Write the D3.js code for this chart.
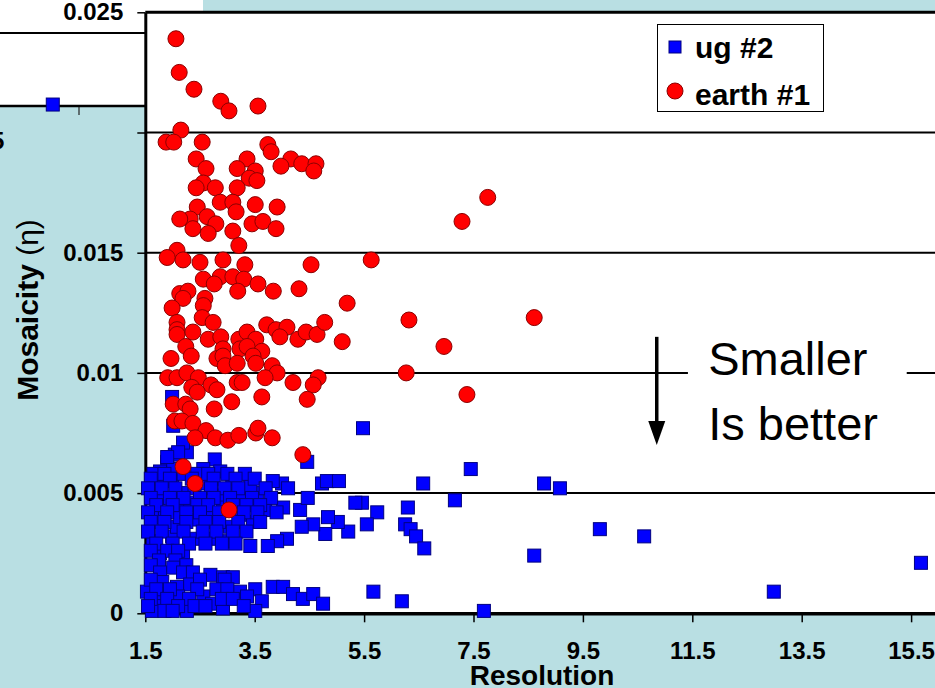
<!DOCTYPE html>
<html>
<head>
<meta charset="utf-8">
<script src="https://cdn.jsdelivr.net/npm/d3@7"></script>
<style>
  body { margin: 0; background: #b9dfe3; overflow: hidden; }
  svg { display: block; font-family: Arial, "Liberation Sans", sans-serif; }
</style>
</head>
<body>
<svg id="chart"></svg>
<script>
var xTicks = [1.5, 3.5, 5.5, 7.5, 9.5, 11.5, 13.5, 15.5];
var yTicks = [0, 0.005, 0.01, 0.015, 0.02, 0.025];
var yTickLabels = ["0", "0.005", "0.01", "0.015", "", "0.025"];
var seriesNames = ["ug #2", "earth #1"];

// [resolution, mosaicity]
var ugPoints = [
  [5.48,0.0077],[4.46,0.0063],[7.45,0.0060],[8.79,0.0054],[9.08,0.0052],[6.58,0.0054],[7.16,0.0047],
  [6.30,0.0044],[6.25,0.0037],[6.35,0.0035],[6.45,0.0032],[6.60,0.0027],[9.81,0.0035],[10.62,0.0032],
  [8.61,0.0024],[15.68,0.0021],[12.99,0.0009],[6.19,0.0005],[7.69,0.0001],[5.67,0.0009],[5.74,0.0042],
  [5.46,0.0046],[5.34,0.0046],[5.55,0.0037],[5.21,0.0034],[5.02,0.0038],[4.84,0.0040],[4.79,0.0033],
  [4.57,0.0037],[4.36,0.0036],[4.33,0.0043],[4.02,0.0044],[4.09,0.0031],[3.91,0.0030],[3.74,0.0028],
  [4.00,0.0054],[4.11,0.0052],[3.83,0.0055],[4.47,0.0048],[4.73,0.0054],[4.82,0.0055],[5.04,0.0055],
  [3.42,0.0028],[3.47,0.0038],[3.69,0.0043],[3.54,0.0050],[3.42,0.0053],[3.09,0.0054],[2.83,0.0049],
  [2.72,0.0040],[3.05,0.0036],[3.00,0.0030],[2.74,0.0031],[2.41,0.0031],[2.19,0.0025],[1.99,0.0032],
  [1.77,0.0025],[1.64,0.0030],[1.62,0.0040],[1.86,0.0042],[2.08,0.0044],[2.32,0.0046],[2.37,0.0039],
  [2.08,0.0036],[1.73,0.0048],[1.73,0.0053],[1.99,0.0055],[2.17,0.0050],[2.55,0.0054],[2.13,0.0040],
  [2.92,0.0044],[3.27,0.0047],[3.23,0.0041],
  [1.90,0.0063],[2.04,0.0066],[2.26,0.0067],[2.77,0.0064],[1.77,0.0059],[2.01,0.0060],[2.56,0.0060],
  [2.87,0.0059],[3.32,0.0058],[1.99,0.0090],[2.01,0.0078],[2.19,0.0071],[2.10,0.0067],[1.90,0.0065],
  [1.65,0.0058],[1.85,0.0058],[2.20,0.0058],[2.45,0.0058],[2.65,0.0058],[3.00,0.0058],
  [1.60,0.0056],[1.95,0.0056],[2.35,0.0056],[2.75,0.0056],[3.15,0.0056],[3.50,0.0056],
  [1.55,0.0052],[1.80,0.0052],[2.05,0.0052],[2.40,0.0052],[2.70,0.0052],[2.95,0.0052],[3.20,0.0052],[3.70,0.0052],
  [1.60,0.0048],[1.95,0.0048],[2.20,0.0048],[2.50,0.0048],[2.75,0.0048],[3.05,0.0048],[3.45,0.0048],[3.80,0.0048],
  [1.70,0.0045],[2.00,0.0045],[2.45,0.0045],[2.65,0.0045],[3.10,0.0045],[3.35,0.0045],[3.60,0.0045],
  [1.55,0.0042],[1.90,0.0042],[2.25,0.0042],[2.50,0.0042],[2.85,0.0042],[3.30,0.0042],[3.55,0.0042],[3.90,0.0042],
  [1.60,0.0038],[1.85,0.0038],[2.25,0.0038],[2.60,0.0038],[2.85,0.0038],[3.20,0.0038],[3.60,0.0038],
  [1.55,0.0034],[1.80,0.0034],[2.20,0.0034],[2.55,0.0034],[2.80,0.0034],[3.10,0.0034],[3.35,0.0034],
  [1.70,0.0029],[2.00,0.0029],[2.30,0.0029],[2.60,0.0029],[2.90,0.0029],[3.15,0.0029],
  [1.60,0.0026],[1.90,0.0026],[2.10,0.0026],[1.75,0.0022],[2.05,0.0022],[1.60,0.0020],[2.25,0.0020],
  [1.77,0.0017],[2.01,0.0019],[2.19,0.0017],[2.37,0.0017],[2.69,0.0016],[2.92,0.0015],[3.10,0.0015],
  [1.81,0.0013],[1.53,0.0009],[2.08,0.0011],[2.32,0.0012],[2.56,0.0007],[2.10,0.0007],[1.81,0.0008],
  [1.77,0.0003],[1.95,0.0002],[1.62,0.0001],[2.26,0.0001],[2.72,0.0004],[2.92,0.0002],[3.51,0.0010],
  [3.23,0.0009],[3.36,0.0007],[3.63,0.0005],[3.51,0.0001],[3.83,0.0011],[4.02,0.0011],[4.20,0.0008],
  [4.38,0.0006],[4.57,0.0008],[4.75,0.0004],
  [1.60,0.0014],[2.50,0.0014],[2.95,0.0014],[1.70,0.0010],[1.95,0.0010],[2.45,0.0010],[2.80,0.0010],[3.00,0.0010],
  [1.60,0.0006],[1.90,0.0006],[2.30,0.0006],[2.90,0.0006],[3.10,0.0006],
  [1.55,0.0003],[2.10,0.0003],[2.40,0.0003],[2.60,0.0003],[3.30,0.0003],[1.85,0.0001],[2.00,0.0001]
];

var earthPoints = [
  [2.06,0.0239],[2.12,0.0225],[2.39,0.0218],[2.88,0.0213],[3.03,0.0209],[3.56,0.0211],
  [2.15,0.0201],[1.88,0.0196],[2.02,0.0196],[2.54,0.0196],[3.74,0.0195],[3.80,0.0192],
  [2.43,0.0189],[3.36,0.0189],[4.16,0.0189],[4.36,0.0187],[4.62,0.0187],[4.58,0.0184],
  [3.98,0.0186],[2.61,0.0185],[3.18,0.0185],[3.51,0.0184],[3.40,0.0181],[3.54,0.0180],
  [2.56,0.0179],[2.43,0.0177],[2.78,0.0177],[3.18,0.0177],[2.87,0.0171],[3.10,0.0171],
  [3.16,0.0167],[3.51,0.0170],[3.91,0.0169],[2.45,0.0169],[2.32,0.0164],[2.13,0.0164],
  [2.63,0.0165],[2.79,0.0162],[2.37,0.0160],[2.65,0.0158],[3.10,0.0159],[3.45,0.0162],
  [3.65,0.0163],[3.89,0.0160],[3.21,0.0153],[2.08,0.0151],[1.90,0.0148],[2.19,0.0147],
  [2.50,0.0146],[2.92,0.0147],[3.32,0.0145],[4.53,0.0145],[5.63,0.0147],[2.87,0.0140],
  [2.56,0.0139],[2.76,0.0137],[3.10,0.0140],[3.30,0.0139],[3.56,0.0137],[3.19,0.0134],
  [3.84,0.0134],[4.31,0.0135],[2.13,0.0133],[2.28,0.0134],[2.19,0.0131],[2.59,0.0131],
  [2.56,0.0128],[1.99,0.0127],[2.54,0.0123],[5.19,0.0129],[2.08,0.0121],[2.74,0.0121],
  [2.08,0.0118],[2.08,0.0116],[2.37,0.0117],[2.65,0.0114],[2.88,0.0115],[3.21,0.0114],
  [3.36,0.0117],[3.52,0.0114],[3.72,0.0120],[3.89,0.0118],[4.09,0.0119],[3.96,0.0115],
  [4.29,0.0114],[4.44,0.0117],[4.64,0.0116],[4.78,0.0121],[5.10,0.0113],[2.24,0.0111],
  [2.34,0.0107],[1.97,0.0106],[2.92,0.0110],[3.23,0.0110],[3.36,0.0111],[3.63,0.0109],
  [2.81,0.0106],[2.92,0.0107],[2.96,0.0103],[3.18,0.0104],[3.47,0.0107],[3.52,0.0104],
  [3.82,0.0103],[3.91,0.0100],[1.91,0.0098],[2.08,0.0098],[2.26,0.0100],[2.47,0.0098],
  [3.69,0.0098],[4.20,0.0096],[4.66,0.0098],[4.57,0.0095],[3.18,0.0096],[3.27,0.0096],
  [2.70,0.0095],[2.81,0.0093],[2.35,0.0094],[2.45,0.0092],[3.63,0.0090],[3.08,0.0088],
  [4.46,0.0089],[2.01,0.0087],[2.24,0.0087],[2.32,0.0085],[2.76,0.0085],[2.04,0.0080],
  [2.17,0.0080],[2.37,0.0079],[2.61,0.0076],[2.41,0.0073],[2.78,0.0073],[3.01,0.0072],
  [3.21,0.0074],[3.52,0.0075],[3.56,0.0077],[3.82,0.0073],[4.38,0.0066],[2.19,0.0061],
  [2.41,0.0054],[3.03,0.0043],[6.32,0.0122],[6.96,0.0111],[6.27,0.0100],[7.38,0.0091],
  [7.29,0.0163],[7.76,0.0173],[8.61,0.0123]
];

// annotation: arrow res, from/to mosaicity; text lines
var arrowRes = 10.85, arrowFrom = 0.0115, arrowTo = 0.0070;
var noteLines = ["Smaller", "Is better"];
var noteRes = 11.79, noteMos = [0.0099, 0.0072];

// bit of an overlapped copy in the top-left corner
var insetPoints = [[2.93, 0.0201]];

var width = 935, height = 688;
var svg = d3.select("#chart").attr("width", width).attr("height", height);

var x = d3.scaleLinear().domain([1.5, 17.5]).range([145.3, 1020.5]);
var y = d3.scaleLinear().domain([0, 0.025]).range([613.3, 12.3]);

svg.append("rect").attr("width", width).attr("height", height).attr("fill", "#b9dfe3");

// plot area
svg.append("rect")
  .attr("x", x(1.5)).attr("y", y(0.025))
  .attr("width", width - x(1.5) + 10).attr("height", y(0) - y(0.025))
  .attr("fill", "#fff");

// overlapped fragment top-left
var insetX = d3.scaleLinear().domain([1.5, 3.5]).range([-13, 79]);
var insetY = d3.scaleLinear().domain([0.02, 0.025]).range([106, 33]);
svg.append("rect").attr("x", 0).attr("y", 0).attr("width", 203).attr("height", 12).attr("fill", "#fff");
svg.append("rect").attr("x", 0).attr("y", 0).attr("width", 145).attr("height", 107).attr("fill", "#fff");
svg.append("line").attr("x1", 0).attr("x2", 145).attr("y1", insetY(0.025)).attr("y2", insetY(0.025))
  .attr("stroke", "#000").attr("stroke-width", 2);
svg.append("line").attr("x1", 0).attr("x2", 145).attr("y1", insetY(0.02)).attr("y2", insetY(0.02))
  .attr("stroke", "#000").attr("stroke-width", 2.5);
svg.append("line").attr("x1", insetX(3.5)).attr("x2", insetX(3.5)).attr("y1", 107).attr("y2", 115)
  .attr("stroke", "#222").attr("stroke-width", 1.2);
svg.append("text").attr("x", -9).attr("y", 149).text("5")
  .attr("font-size", 24).attr("font-weight", "bold");

// gridlines
svg.append("g").selectAll("line")
  .data(yTicks.filter(function (d) { return d > 0 && d < 0.025; }))
  .enter().append("line")
  .attr("x1", x(1.5)).attr("x2", width)
  .attr("y1", function (d) { return y(d); })
  .attr("y2", function (d) { return y(d); })
  .attr("stroke", "#000").attr("stroke-width", 2);

// top border
svg.append("line").attr("x1", x(1.5)).attr("x2", width)
  .attr("y1", y(0.025)).attr("y2", y(0.025))
  .attr("stroke", "#000").attr("stroke-width", 3);

// y axis
var yAxis = svg.append("g")
  .attr("transform", "translate(" + x(1.5) + ",0)")
  .call(d3.axisLeft(y).tickValues(yTicks).tickSize(8).tickSizeOuter(0).tickPadding(14)
    .tickFormat(function (d, i) { return yTickLabels[i]; }));
yAxis.select(".domain").attr("stroke-width", 3);
yAxis.selectAll(".tick line").attr("stroke-width", 1.5);
yAxis.selectAll("text").attr("font-size", 24).attr("font-weight", "bold")
  .attr("font-family", "Arial, 'Liberation Sans', sans-serif").attr("fill", "#000");

// x axis
var xAxis = svg.append("g")
  .attr("transform", "translate(0," + y(0) + ")")
  .call(d3.axisBottom(x).tickValues(xTicks).tickSize(9).tickSizeOuter(0).tickPadding(20)
    .tickFormat(d3.format(".1f")));
xAxis.select(".domain").attr("stroke-width", 3.5);
xAxis.selectAll(".tick line").attr("stroke-width", 1.5);
xAxis.selectAll("text").attr("font-size", 24).attr("font-weight", "bold")
  .attr("font-family", "Arial, 'Liberation Sans', sans-serif").attr("fill", "#000");

// axis titles
svg.append("text")
  .attr("x", 542).attr("y", 685)
  .attr("text-anchor", "middle")
  .attr("font-size", 28).attr("font-weight", "bold")
  .text("Resolution");

var yTitle = svg.append("text")
  .attr("transform", "translate(38," + 310 + ") rotate(-90)")
  .attr("text-anchor", "middle")
  .attr("font-size", 30).attr("font-weight", "bold");
yTitle.append("tspan").text("Mosaicity ");
yTitle.append("tspan").attr("font-weight", "normal").text("(η)");

// inset point
svg.append("g").selectAll("rect")
  .data(insetPoints).enter().append("rect")
  .attr("x", function (d) { return insetX(d[0]) - 6.5; })
  .attr("y", function (d) { return insetY(d[1]) - 6.5; })
  .attr("width", 13).attr("height", 13)
  .attr("fill", "#0000ff").attr("stroke", "#000080").attr("stroke-width", 1);

// ug #2 squares
svg.append("g").selectAll("rect")
  .data(ugPoints).enter().append("rect")
  .attr("x", function (d) { return x(d[0]) - 6.5; })
  .attr("y", function (d) { return y(d[1]) - 6.5; })
  .attr("width", 13).attr("height", 13)
  .attr("fill", "#0000ff").attr("stroke", "#000080").attr("stroke-width", 1);

// earth #1 circles
svg.append("g").selectAll("circle")
  .data(earthPoints).enter().append("circle")
  .attr("cx", function (d) { return x(d[0]); })
  .attr("cy", function (d) { return y(d[1]); })
  .attr("r", 8)
  .attr("fill", "#ff0000").attr("stroke", "#8b0000").attr("stroke-width", 1);

// legend
var legend = svg.append("g");
legend.append("rect").attr("x", 657.5).attr("y", 24.5).attr("width", 166).attr("height", 87)
  .attr("fill", "#fff").attr("stroke", "#000").attr("stroke-width", 1);
legend.append("rect").attr("x", 669).attr("y", 41).attr("width", 12).attr("height", 12)
  .attr("fill", "#0000ff").attr("stroke", "#000080");
legend.append("circle").attr("cx", 675).attr("cy", 91).attr("r", 8)
  .attr("fill", "#ff0000").attr("stroke", "#8b0000");
legend.selectAll("text").data(seriesNames).enter().append("text")
  .attr("x", 695)
  .attr("y", function (d, i) { return i === 0 ? 58 : 105; })
  .attr("font-size", 30).attr("font-weight", "bold")
  .text(function (d) { return d; });

// annotation
svg.append("rect")
  .attr("x", x(11.42)).attr("y", y(0.0113))
  .attr("width", x(15.42) - x(11.42)).attr("height", y(0.0085) - y(0.0113))
  .attr("fill", "#fff");
svg.append("line")
  .attr("x1", x(arrowRes)).attr("x2", x(arrowRes))
  .attr("y1", y(arrowFrom)).attr("y2", y(arrowTo) - 20)
  .attr("stroke", "#000").attr("stroke-width", 3.5);
svg.append("path")
  .attr("d", "M" + (x(arrowRes) - 8.5) + "," + (y(arrowTo) - 24) +
    "L" + (x(arrowRes) + 8.5) + "," + (y(arrowTo) - 24) +
    "L" + x(arrowRes) + "," + y(arrowTo) + "Z")
  .attr("fill", "#000");
svg.append("g").selectAll("text")
  .data(noteLines).enter().append("text")
  .attr("x", x(noteRes))
  .attr("y", function (d, i) { return y(noteMos[i]); })
  .attr("font-size", 47)
  .text(function (d) { return d; });
</script>
</body>
</html>
